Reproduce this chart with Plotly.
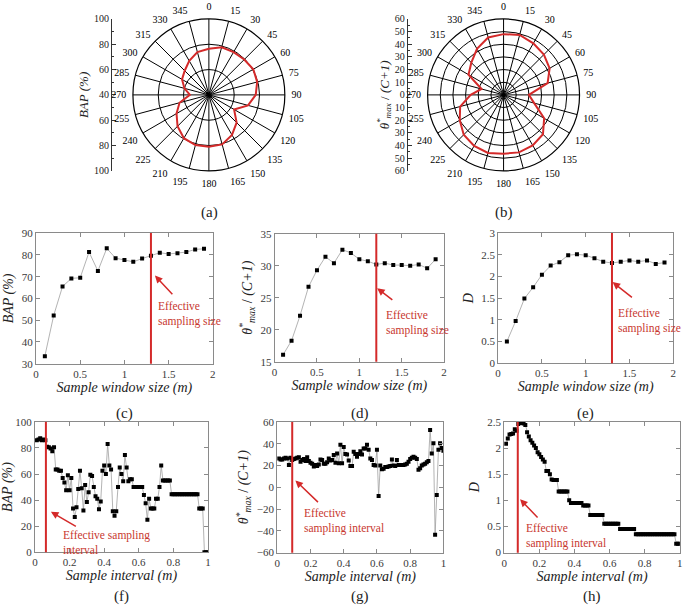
import plotly.graph_objects as go

# ---------------- data ----------------
angles = list(range(0, 360, 15))
angle_labels = [str(a) for a in angles]

bap_polar = [76.5, 79, 79, 79.5, 80.5, 79.5, 77, 72, 63, 71, 76.5, 80.5,
             81, 81, 79.5, 75, 69.5, 64, 55, 60, 64.5, 67, 71, 75]
theta_polar = [48, 49, 47, 45, 42, 36, 20, 25, 37, 44, 46, 47,
               46.5, 47.5, 46.5, 44.5, 40, 35.5, 26, 18, 32, 36, 42, 47]

window_size = [0.1, 0.2, 0.3, 0.4, 0.5, 0.6, 0.7, 0.8, 0.9, 1.0,
               1.1, 1.2, 1.3, 1.4, 1.5, 1.6, 1.7, 1.8, 1.9]
bap_window = [33.5, 52.2, 65.5, 69.2, 69.5, 81.3, 72.6, 83.0, 78.5, 77.6,
              76.8, 78.3, 79.6, 81.0, 80.4, 80.7, 81.3, 82.5, 82.8]
theta_window = [16.1, 18.3, 22.2, 26.7, 29.3, 31.4, 30.4, 32.5, 32.0, 31.0,
                30.7, 30.2, 30.4, 30.1, 30.1, 30.0, 30.2, 29.6, 31.0]
d_window = [0.50, 0.97, 1.49, 1.75, 2.04, 2.25, 2.33, 2.49, 2.51, 2.49,
            2.42, 2.34, 2.31, 2.34, 2.37, 2.34, 2.37, 2.29, 2.32]

sample_interval = [round(0.01 * k, 2) for k in range(1, 101)]
bap_interval = (
    [86, 86.5, 87.5, 86, 86.5, 86,
     81, 80.5, 79.5, 77.5, 80.5,
     63.5, 63.5, 62.5, 62.5,
     57, 53.5, 47.5, 59, 47.5, 57, 33.5, 27, 34.5, 48.5, 62.5, 49, 32, 51.5,
     38.5, 46, 59.5, 58.5, 50, 43, 41, 33, 39, 62.5, 66.5, 60, 83, 66.5, 63.5,
     31.5, 28, 31.5, 50, 65, 60, 54.5, 74.5, 65, 54.5, 56, 56]
    + [50] * 6
    + [44, 37.5, 25, 41, 33.5, 33.5, 33.5, 41, 41, 50]
    + [66.5]
    + [55] * 5
    + [44.5] * 16
    + [33.5] * 3
    + [0] * 3
)
theta_interval = [
    26.5, 25.5, 25.5, 26.5, 27, 26.5, 20.5, 27, 25, 26,
    26.5, 27, 27.5, 23.5, 25, 26, 24, 27.5, 24, 22.5,
    21.5, 19, 20.5, 19.5, 21, 25.5, 25, 21.5, 21.5, 23,
    26.5, 24.5, 25, 29.5, 22.5, 31, 22, 39, 22, 37,
    30.5, 30, 24.5, 19.5, 19.5, 32.5, 30.5, 28, 30.5, 33,
    30, 35.5, 35.5, 39, 34.5, 26.5, 25, 20.5, 20, 34.5,
    -8, 20, 16.5, 17, 18.5, 18.5, 19, 19.5, 25.5, 20,
    19.5, 25, 20.5, 20.5, 20.5, 20.5, 21, 21.5, 23.5, 26,
    27, 28, 27, 26, 16, 17.5, 20, 21, 21.5, 23,
    24, 52.5, 31, 40.5, -43.5, -7, 34.5, 40.5, 36, 33.5]
d_interval = (
    [2.08, 2.18, 2.26, 2.27, 2.28, 2.36, 2.33, 2.46, 2.48, 2.48,
     2.47, 2.44, 2.30, 2.22, 2.15, 2.10, 2.05, 2.00, 1.92, 1.88,
     1.83, 1.78, 1.74, 1.56, 1.56, 1.50, 1.40, 1.39, 1.39, 1.39]
    + [1.17] * 6 + [1.0] + [0.95] * 7 + [0.9] * 4 + [0.72] * 8
    + [0.55] * 9 + [0.45] * 9 + [0.35] * 23 + [0.17] * 3
)

effective_size = [1.3, 1.2, 1.3]
effective_interval = [0.063, 0.09, 0.077]

# ---------------- layout helpers ----------------
W, H = 685, 605
SERIF = "Liberation Serif"
RED = "#d42a2a"
TXT_RED = "#c8382f"


def fx(px):
    return px / W


def fy(py):
    return 1 - py / H


fig = go.Figure()

# polar plots
for name, vals in [("polar", bap_polar), ("polar2", theta_polar)]:
    fig.add_trace(go.Scatterpolar(
        r=vals + vals[:1], theta=angles + angles[:1], mode="lines",
        line=dict(color=RED, width=2), subplot=name, showlegend=False))

polar_common = dict(
    bgcolor="white",
    angularaxis=dict(direction="clockwise", rotation=90, tickmode="array",
                     tickvals=angles, ticktext=angle_labels, showgrid=True,
                     gridcolor="black", gridwidth=0.8, linecolor="black",
                     linewidth=1.2, ticks="outside", ticklen=4,
                     tickcolor="rgba(0,0,0,0)",
                     tickfont=dict(family=SERIF, size=10, color="black")),
)
fig.update_layout(
    polar=dict(domain=dict(x=[fx(130.2), fx(285.2)], y=[fy(168.2), fy(13.2)]),
               radialaxis=dict(range=[40, 100], tickvals=[60, 80, 100],
                               showticklabels=False, ticks="", showline=False,
                               gridcolor="black", gridwidth=0.8),
               **polar_common),
    polar2=dict(domain=dict(x=[fx(427.6), fx(582.4)], y=[fy(168.2), fy(13.2)]),
                radialaxis=dict(range=[0, 60], tickvals=[10, 20, 30, 40, 50, 60],
                                showticklabels=False, ticks="", showline=False,
                                gridcolor="black", gridwidth=0.8),
                **polar_common),
)

THETA_TITLE = "<i>θ<sup>*</sup><sub>max</sub></i> / <i>(C+1)</i>"

# cartesian panels
panels = [
    (window_size, bap_window, (33.3, 211.7), (231.7, 365), [0, 2], [30, 90], 10,
     "<i>BAP (%)</i>", "<i>Sample window size (m)</i>", 0.5),
    (window_size, theta_window, (274, 445), (232.3, 363), [0, 2], [15, 35], 5,
     THETA_TITLE, "<i>Sample window size (m)</i>", 0.5),
    (window_size, d_window, (499.5, 676.2), (231.7, 364.4), [0, 2], [0, 3], 0.5,
     "<i>D</i>", "<i>Sample window size (m)</i>", 0.5),
    (sample_interval, bap_interval, (32.3, 206.7), (424.3, 557.3), [0, 1], [0, 100], 20,
     "<i>BAP (%)</i>", "<i>Sample interval (m)</i>", 0.2),
    (sample_interval, theta_interval, (276.7, 444.3), (424.3, 557.7), [0, 1], [-60, 60], 20,
     THETA_TITLE, "<i>Sample interval (m)</i>", 0.2),
    (sample_interval, d_interval, (505.7, 682.7), (424.3, 557.7), [0, 1], [0, 2.5], 0.5,
     "<i>D</i>", "<i>Sample interval (m)</i>", 0.2),
]

axis_common = dict(showline=True, linecolor="#8a8a8a", linewidth=1, mirror="ticks",
                   ticks="inside", ticklen=4, tickcolor="#8a8a8a", showgrid=False,
                   zeroline=False, tickfont=dict(family=SERIF, size=11, color="#3a3a3a"))

for i, (xs, ys, xd, yd, xr, yr, ydt, yt, xt, xdt) in enumerate(panels, start=1):
    sfx = "" if i == 1 else str(i)
    fig.add_trace(go.Scatter(
        x=xs, y=ys, mode="lines+markers", xaxis="x" + sfx, yaxis="y" + sfx,
        line=dict(color="#a0a0a0", width=0.8),
        marker=dict(symbol="square", size=4, color="black"), showlegend=False))
    fig.layout["xaxis" + sfx] = dict(
        domain=[fx(xd[0]), fx(xd[1])], anchor="y" + sfx, range=xr, dtick=xdt,
        title=dict(text=xt, font=dict(family=SERIF, size=14, color="#222"), standoff=0),
        **axis_common)
    fig.layout["yaxis" + sfx] = dict(
        domain=[fy(yd[1]), fy(yd[0])], anchor="x" + sfx, range=yr, dtick=ydt,
        title=dict(text=yt, font=dict(family=SERIF, size=14, color="#222"), standoff=4),
        **axis_common)

# effective lines
for i, xv in enumerate(effective_size + effective_interval, start=1):
    sfx = "" if i == 1 else str(i)
    fig.add_shape(type="line", xref="x" + sfx, yref="y" + sfx + " domain",
                  x0=xv, x1=xv, y0=0, y1=1, line=dict(color=RED, width=2))

# arrows + texts: (panel, head(x,y), tail(x,y), text pos(x,y), text)
notes = [
    (1, (1.345, 70.5), (1.558, 61.2), (1.357, 60.3), "Effective<br>sampling size"),
    (2, (1.21, 26.5), (1.407, 24.5), (1.29, 23.6), "Effective<br>sampling size"),
    (3, (1.307, 1.87), (1.545, 1.49), (1.345, 1.34), "Effective<br>sampling size"),
    (4, (0.092, 31), (0.245, 19.2), (0.149, 19.5), "Effective sampling<br>interval"),
    (5, (0.109, 6.3), (0.254, -15), (0.149, -16), "Effective<br>sampling interval"),
    (6, (0.09, 1.02), (0.198, 0.645), (0.113, 0.63), "Effective<br>sampling interval"),
]
for i, head, tail, tpos, txt in notes:
    sfx = "" if i == 1 else str(i)
    fig.add_annotation(x=head[0], y=head[1], ax=tail[0], ay=tail[1],
                       xref="x" + sfx, yref="y" + sfx, axref="x" + sfx, ayref="y" + sfx,
                       text="", showarrow=True, arrowhead=2, arrowsize=1,
                       arrowwidth=1.5, arrowcolor=RED)
    fig.add_annotation(x=tpos[0], y=tpos[1], xref="x" + sfx, yref="y" + sfx,
                       text=txt, showarrow=False, xanchor="left", yanchor="top",
                       align="left", font=dict(family=SERIF, size=11.5, color=TXT_RED))

# left radial scales for polar plots
for idx, xpos, rng_vals, labels, minor_dt, title in [
    (7, 110, [-60, -40, -20, 0, 20, 40, 60], ["100", "80", "60", "40", "60", "80", "100"],
     10, "<i>BAP (%)</i>"),
    (8, 408.3, list(range(-60, 61, 10)), ["60", "50", "40", "30", "20", "10", "0",
                                           "10", "20", "30", "40", "50", "60"], 5, THETA_TITLE),
]:
    fig.add_trace(go.Scatter(x=[], y=[], xaxis="x%d" % idx, yaxis="y%d" % idx,
                             showlegend=False))
    fig.layout["xaxis%d" % idx] = dict(domain=[fx(xpos), fx(xpos + 5)], anchor="y%d" % idx,
                                       visible=False, range=[0, 1])
    fig.layout["yaxis%d" % idx] = dict(
        domain=[fy(168.2), fy(13.2)], anchor="x%d" % idx, range=[-60, 60],
        tickmode="array", tickvals=rng_vals, ticktext=labels,
        showline=True, linecolor="#333", linewidth=1, ticks="inside", ticklen=4,
        tickcolor="#333", showgrid=False, zeroline=False,
        minor=dict(dtick=minor_dt, ticks="inside", ticklen=2, tickcolor="#333"),
        tickfont=dict(family=SERIF, size=10, color="#222"),
        title=dict(text=title, font=dict(family=SERIF, size=13, color="#222"), standoff=2))

# panel letters
for txt, px, py in [("(a)", 208, 211), ("(b)", 505, 211), ("(c)", 123, 416),
                    ("(d)", 360, 416), ("(e)", 588, 416), ("(f)", 120, 602),
                    ("(g)", 360, 602), ("(h)", 594, 602)]:
    fig.add_annotation(x=fx(px), y=fy(py), xref="paper", yref="paper", text=txt,
                       xanchor="center", yanchor="middle", showarrow=False,
                       font=dict(family=SERIF, size=15, color="#222"))

fig.update_layout(width=W, height=H, autosize=False, paper_bgcolor="white",
                  plot_bgcolor="white", margin=dict(l=0, r=0, t=0, b=0),
                  showlegend=False)

fig.write_html("out.html", config={"displayModeBar": False},
               post_script="document.body.style.margin='0';document.body.style.overflow='hidden';")
